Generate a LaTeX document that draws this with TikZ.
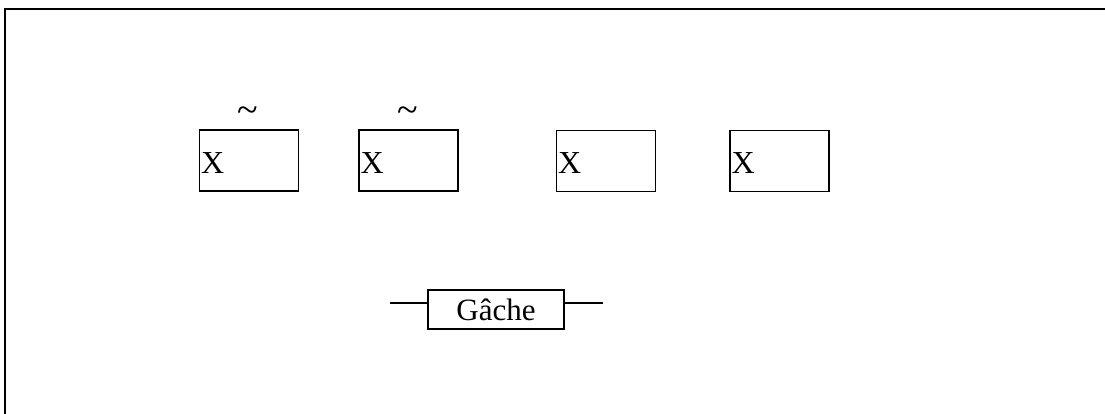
\documentclass[tikz,border=0pt]{standalone}
\usepackage{fontspec}
\setmainfont{Liberation Serif}
\begin{document}
\begin{tikzpicture}[x=1pt,y=-1pt,
  frameline/.style={line width=1.3pt},
  xbox/.style={draw, line width=1.2pt, minimum width=99pt, minimum height=61pt, inner sep=0pt},
  xlabel/.style={anchor=west, inner sep=0pt, font=\fontsize{32}{36}\selectfont},
  tildelabel/.style={inner sep=0pt, font=\fontsize{38}{40}\selectfont},
  gbox/.style={draw, line width=1.2pt, minimum width=136pt, minimum height=39pt, inner sep=0pt, font=\fontsize{31}{36}\selectfont},
  wire/.style={line width=1.1pt}]
\useasboundingbox (0,0) rectangle (1105,414);
% frame (top and left edges)
\coordinate (ftr) at (1105,9);
\coordinate (ftl) at (5,9);
\coordinate (fbl) at (5,414);
\draw[frameline] (ftr) -- (ftl) -- (fbl);
% boxes
\node[xbox] (b1) at (249,160.5) {};
\node[xbox] (b2) at (408.5,160.5) {};
\node[xbox] (b3) at (606,161) {};
\node[xbox] (b4) at (779.5,161) {};
\node[xlabel] (x1) at ([xshift=2pt,yshift=-2.5pt]b1.west) {X};
\node[xlabel] (x2) at ([xshift=2pt,yshift=-2.5pt]b2.west) {X};
\node[xlabel] (x3) at ([xshift=2pt,yshift=-2.5pt]b3.west) {X};
\node[xlabel] (x4) at ([xshift=2pt,yshift=-2.5pt]b4.west) {X};
% tildes
\node[tildelabel] (t1) at (248,115) {\textasciitilde};
\node[tildelabel] (t2) at (408,115) {\textasciitilde};
% Gache
\node[gbox] (g) at (496,309.5) {Gâche};
\coordinate (gl) at (390,303);
\coordinate (gr) at (603,303);
\draw[wire] (gl) -- (g.west |- gl);
\draw[wire] (g.east |- gr) -- (gr);
\end{tikzpicture}
\end{document}
